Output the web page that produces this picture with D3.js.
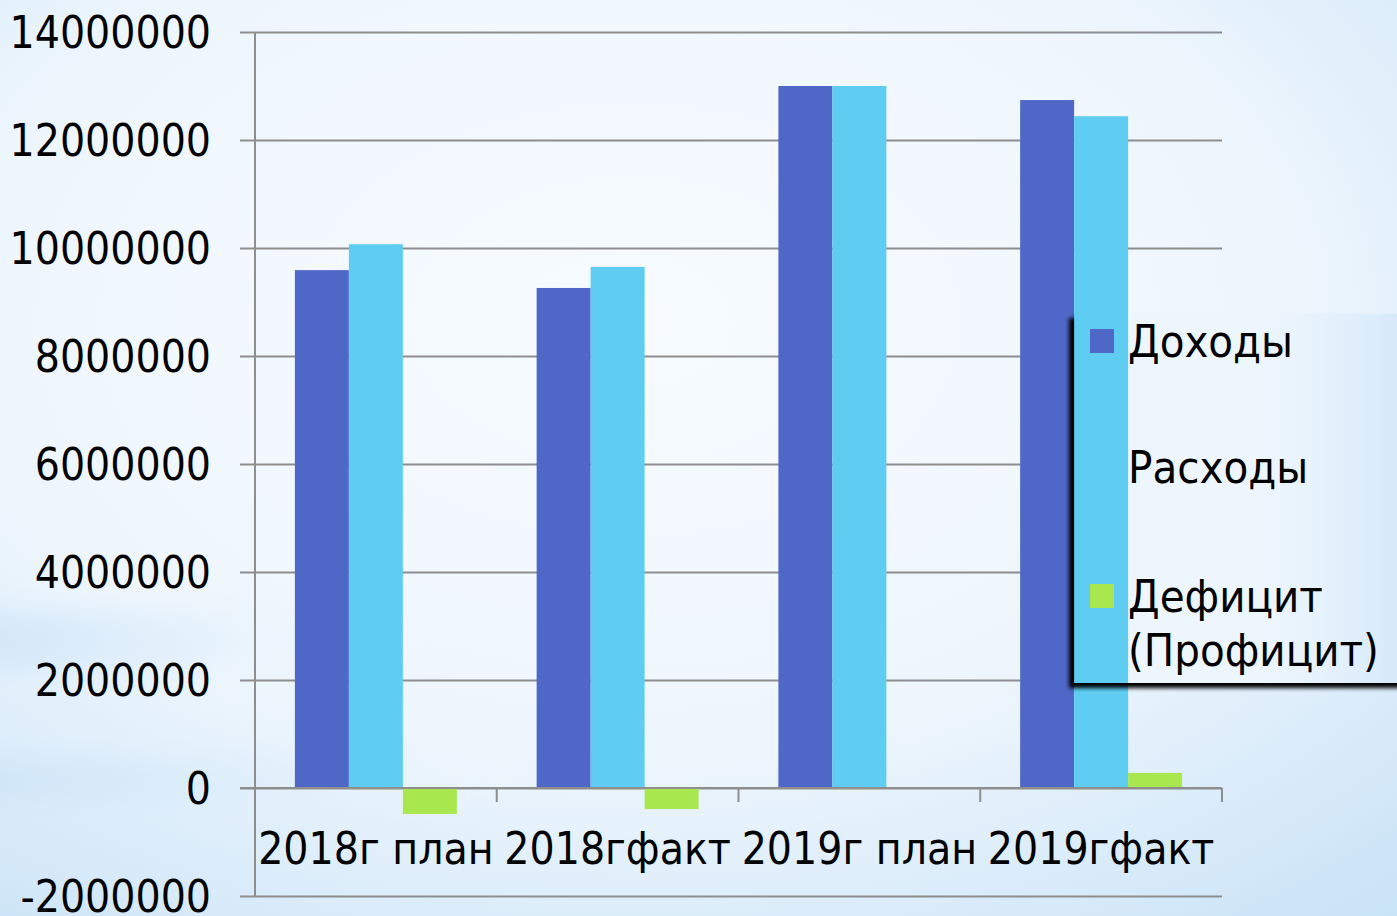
<!DOCTYPE html>
<html>
	<head>
		<meta charset="utf-8">
		<script type="text/javascript" src="https://d3js.org/d3.v7.min.js"></script>
		<title>Доходы и расходы</title>
		<style>
			body { margin:0; padding:0; overflow:hidden; }
			svg text { font-family:"DejaVu Sans Condensed","DejaVu Sans",sans-serif; fill:#000; }
		</style>
	</head>
	<body>
		<div id="chart"></div>
		<script type="text/javascript">

			var categories = ["2018г план", "2018гфакт", "2019г план", "2019гфакт"];
			var seriesNames = ["Доходы", "Расходы", "Дефицит (Профицит)"];
			var dohody  = [9590000, 9260000, 13000000, 12740000];
			var rashody = [10070000, 9650000, 13000000, 12440000];
			var deficit = [-480000, -390000, 0, 280000];
			var yTicks = [-2000000, 0, 2000000, 4000000, 6000000, 8000000, 10000000, 12000000, 14000000];
			var seriesColors = ["#4f68c8", "#5fcdf2", "#a8e84e"];

			(function(){
			  var width = 1397, height = 916;
			  var left = 255, right = 1222, top = 32, bottom = 896;

			  var svg = d3.select("#chart").append("svg")
			      .attr("width", width).attr("height", height);

			  // background, pale sky gradient
			  var defs = svg.append("defs");
			  var rg = defs.append("radialGradient").attr("id", "bg")
			      .attr("cx", "0.45").attr("cy", "0.35").attr("r", "0.85");
			  rg.append("stop").attr("offset", "0").attr("stop-color", "#f7fbff");
			  rg.append("stop").attr("offset", "0.55").attr("stop-color", "#eef6fd");
			  rg.append("stop").attr("offset", "1").attr("stop-color", "#c9e3f7");
			  var streak = defs.append("linearGradient").attr("id", "streak")
			      .attr("x1", "0").attr("x2", "1").attr("y1", "0").attr("y2", "0");
			  streak.append("stop").attr("offset", "0").attr("stop-color", "#bcdcf5").attr("stop-opacity", 0.9);
			  streak.append("stop").attr("offset", "0.6").attr("stop-color", "#d6eafa").attr("stop-opacity", 0.4);
			  streak.append("stop").attr("offset", "1").attr("stop-color", "#ffffff").attr("stop-opacity", 0);
			  defs.append("filter").attr("id", "blur").attr("x", "-20%").attr("y", "-50%").attr("width", "140%").attr("height", "200%")
			      .append("feGaussianBlur").attr("stdDeviation", 12);
			  defs.append("filter").attr("id", "shadow").attr("x", "-10%").attr("y", "-10%").attr("width", "120%").attr("height", "120%")
			      .append("feGaussianBlur").attr("stdDeviation", 2);

			  svg.append("rect").attr("width", width).attr("height", height).attr("fill", "url(#bg)");
			  svg.append("ellipse").attr("cx", 120).attr("cy", 640).attr("rx", 330).attr("ry", 30)
			     .attr("fill", "url(#streak)").attr("filter", "url(#blur)");
			  svg.append("ellipse").attr("cx", 150).attr("cy", 780).attr("rx", 420).attr("ry", 22)
			     .attr("fill", "url(#streak)").attr("filter", "url(#blur)");

			  var y = d3.scaleLinear().domain([-2000000, 14000000]).range([bottom, top]);
			  var x0 = d3.scaleBand().domain(categories).range([left, right])
			      .paddingInner(0.33).paddingOuter(0.165);
			  var x1 = d3.scaleBand().domain(d3.range(seriesNames.length)).range([0, x0.bandwidth()]);

			  // grid lines with outside tick marks
			  var yAxis = d3.axisLeft(y).tickValues(yTicks).tickSize(-(right - left))
			      .tickFormat(function(d) { return String(d); });
			  var gy = svg.append("g").attr("transform", "translate(" + left + ",0)").call(yAxis);
			  gy.select(".domain").remove();
			  gy.selectAll(".tick line").attr("x1", -15).attr("stroke", "#8e8e8e").attr("stroke-width", 2);
			  gy.selectAll(".tick text").attr("x", -44).attr("dy", "0.36em")
			    .style("font-size", "44px");

			  var data = categories.map(function(c, i) { return [dohody[i], rashody[i], deficit[i]]; });

			  var groups = svg.append("g").selectAll("g").data(data).enter().append("g")
			      .attr("transform", function(d, i) { return "translate(" + x0(categories[i]) + ",0)"; });
			  groups.selectAll("rect").data(function(d) { return d; }).enter().append("rect")
			      .attr("x", function(d, j) { return x1(j); })
			      .attr("width", x1.bandwidth())
			      .attr("y", function(d) { return y(Math.max(0, d)); })
			      .attr("height", function(d) { return Math.abs(y(d) - y(0)); })
			      .attr("fill", function(d, j) { return seriesColors[j]; });

			  // vertical axis
			  svg.append("line").attr("x1", left).attr("x2", left).attr("y1", top).attr("y2", bottom)
			     .attr("stroke", "#8e8e8e").attr("stroke-width", 2);
			  // zero line with category ticks
			  svg.append("line").attr("x1", left - 15).attr("x2", right).attr("y1", y(0)).attr("y2", y(0))
			     .attr("stroke", "#8e8e8e").attr("stroke-width", 2);
			  var xAxis = d3.axisBottom(x0).tickSize(0).tickPadding(0);
			  var gx = svg.append("g").attr("transform", "translate(0," + y(0) + ")").call(xAxis);
			  gx.select(".domain").remove();
			  gx.selectAll(".tick text").attr("y", 76).attr("dy", 0).style("font-size", "44px");
			  var borders = categories.map(function(c) { return x0(c) - x0.step() * x0.paddingOuter(); });
			  borders.push(right);
			  svg.append("g").selectAll("line").data(borders.slice(1)).enter().append("line")
			     .attr("x1", function(d) { return d; }).attr("x2", function(d) { return d; })
			     .attr("y1", y(0)).attr("y2", y(0) + 14)
			     .attr("stroke", "#8e8e8e").attr("stroke-width", 2);

			  // legend box with shadow on left/bottom
			  var lg = svg.append("g");
			  lg.append("rect").attr("x", 1069).attr("y", 318).attr("width", 340).attr("height", 370)
			    .attr("fill", "#000").attr("filter", "url(#shadow)");
			  lg.append("rect").attr("x", 1075).attr("y", 314).attr("width", 330).attr("height", 369)
			    .attr("fill", "#eef6fd");
			  // bar behind the legend shows through
			  lg.append("rect").attr("x", x0(categories[3]) + x1(1)).attr("y", 314)
			    .attr("width", x1.bandwidth()).attr("height", 369)
			    .attr("fill", seriesColors[1]);
			  var gradRight = defs.append("linearGradient").attr("id", "lgfade")
			      .attr("x1", "0").attr("x2", "1").attr("y1", "0").attr("y2", "0");
			  gradRight.append("stop").attr("offset", "0").attr("stop-color", "#f3f8fe").attr("stop-opacity", 0);
			  gradRight.append("stop").attr("offset", "1").attr("stop-color", "#cfe6f8").attr("stop-opacity", 0.8);
			  lg.append("rect").attr("x", 1200).attr("y", 314).attr("width", 197).attr("height", 369)
			    .attr("fill", "url(#lgfade)");

			  var legendY = [341, 467, 596];
			  seriesNames.forEach(function(name, j) {
			    lg.append("rect").attr("x", 1090).attr("y", legendY[j] - 12).attr("width", 24).attr("height", 24)
			      .attr("fill", seriesColors[j]);
			    var t = lg.append("text").attr("x", 1128).attr("y", legendY[j]).attr("dy", "0.36em")
			      .style("font-size", "45px");
			    if (j === 2) {
			      t.append("tspan").attr("x", 1128).text("Дефицит");
			      t.append("tspan").attr("x", 1128).attr("dy", "1.2em").text("(Профицит)");
			    } else {
			      t.text(name);
			    }
			  });

			})();
		</script>
	</body>
</html>
